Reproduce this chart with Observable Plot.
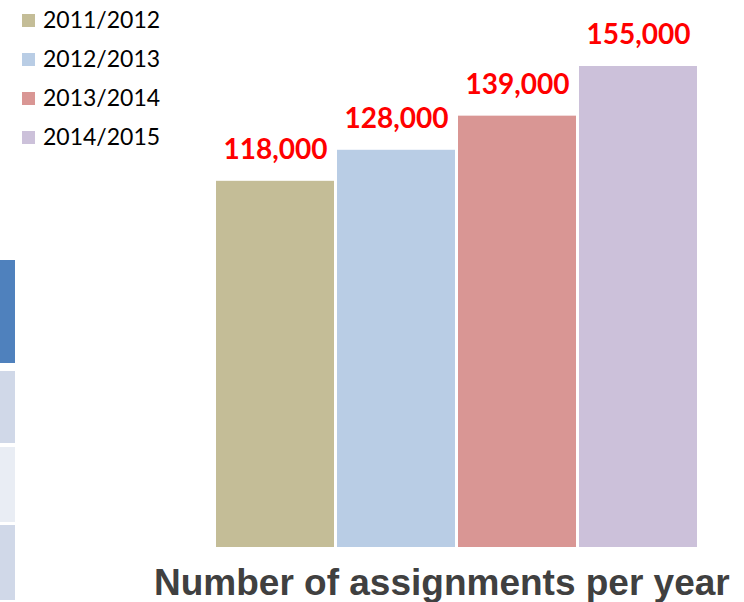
<!DOCTYPE html>
<html>
<head>
<meta charset="utf-8">
<script src="https://cdn.jsdelivr.net/npm/d3@7"></script>
<script src="https://cdn.jsdelivr.net/npm/@observablehq/plot@0.6"></script>
<style>
  html, body { margin: 0; padding: 0; background: #fff; }
  #wrap { position: relative; width: 744px; height: 602px; overflow: hidden; background: #fff; }
  #chart { position: absolute; left: 0; top: 0; }
  .legend-item { position: absolute; left: 22px; height: 23px; font-family: Lato, "Open Sans", sans-serif; font-size: 23px; line-height: 23px; color: #000; white-space: nowrap; }
  .legend-sw { position: absolute; left: 0; width: 13px; height: 13px; }
  .legend-tx { position: absolute; left: 21px; top: 0; }
  #title { position: absolute; left: 154px; top: 564px; font-family: "Liberation Sans", Arial, sans-serif; font-weight: bold; font-size: 37px; line-height: 37px; color: #404040; white-space: nowrap; }
  .deco { position: absolute; left: 0; width: 15px; }
</style>
</head>
<body>
<div id="wrap">
  <div id="chart"></div>
  <div id="legend"></div>
  <div id="title">Number of assignments per year</div>
</div>
<script>
const years = ["2011/2012", "2012/2013", "2013/2014", "2014/2015"];
const assignments = [118000, 128000, 139000, 155000];
const colors = ["#c4bd97", "#b9cde5", "#d99694", "#ccc1da"];
const labelColor = "#ff0000";
const chartTitle = "Number of assignments per year";

// partial table fragment at left edge (decorative)
const decoTops = [260, 371, 447, 525];
const decoHeights = [103, 72, 75, 75];
const decoColors = ["#4f81bd", "#d0d8e8", "#e9edf4", "#d0d8e8"];

const data = years.map((y, i) => ({year: y, value: assignments[i]}));
const fmt = d3.format(",");

const plot = Plot.plot({
  width: 744,
  height: 560,
  marginLeft: 215,
  marginRight: 47,
  marginTop: 66,
  marginBottom: 13,
  x: {domain: years, paddingInner: 0.025, paddingOuter: 0, axis: null},
  y: {domain: [0, 155000], axis: null},
  color: {domain: years, range: colors},
  style: {background: "transparent", overflow: "visible"},
  marks: [
    Plot.barY(data, {x: "year", y: "value", fill: "year"}),
    Plot.text(data, {
      x: "year", y: "value", text: d => fmt(d.value),
      fill: labelColor, fontSize: 28, fontWeight: "bold",
      fontFamily: "Lato, 'Open Sans', sans-serif",
      textAnchor: "middle", dy: -31
    })
  ]
});
document.getElementById("chart").appendChild(plot);

const legend = document.getElementById("legend");
years.forEach((y, i) => {
  const item = document.createElement("div");
  item.className = "legend-item";
  item.style.top = (7.6 + 39 * i) + "px";
  const sw = document.createElement("div");
  sw.className = "legend-sw";
  sw.style.background = colors[i];
  sw.style.top = "6px";
  const tx = document.createElement("span");
  tx.className = "legend-tx";
  tx.textContent = y;
  item.appendChild(sw);
  item.appendChild(tx);
  legend.appendChild(item);
});

const wrap = document.getElementById("wrap");
decoTops.forEach((t, i) => {
  const d = document.createElement("div");
  d.className = "deco";
  d.style.top = t + "px";
  d.style.height = decoHeights[i] + "px";
  d.style.background = decoColors[i];
  wrap.appendChild(d);
});
document.getElementById("title").textContent = chartTitle;
</script>
</body>
</html>
